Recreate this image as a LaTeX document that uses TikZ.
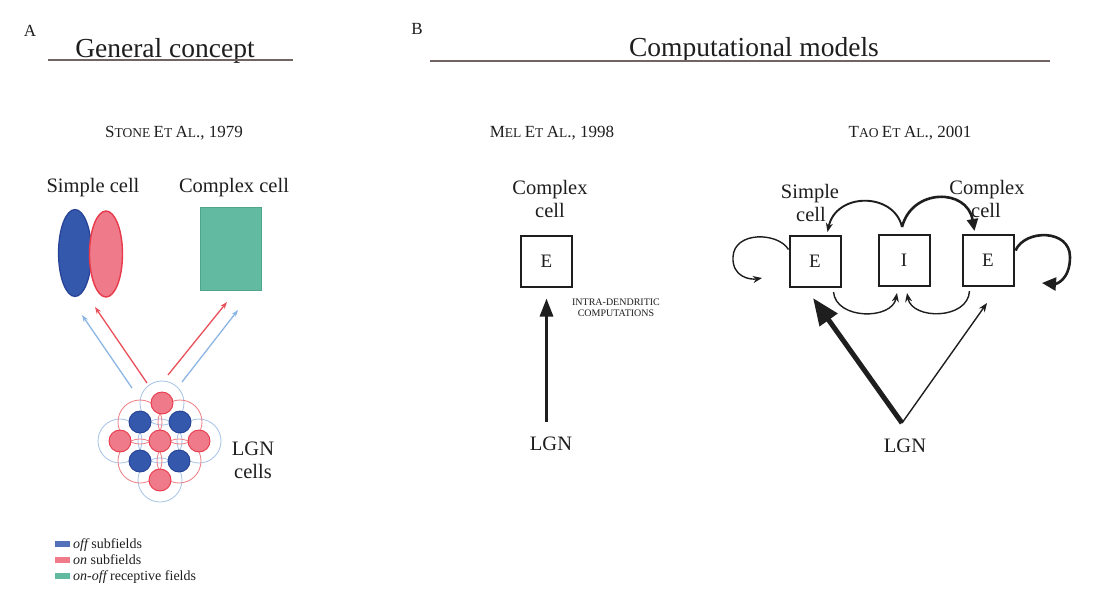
\documentclass[tikz,border=0pt]{standalone}
\usepackage{fontspec}
\setmainfont{Liberation Serif}
\usetikzlibrary{arrows.meta,shapes.geometric,calc}
\definecolor{offblue}{RGB}{52,88,172}
\definecolor{offedge}{RGB}{38,66,150}
\definecolor{onpink}{RGB}{238,122,138}
\definecolor{onedge}{RGB}{232,58,75}
\definecolor{rfteal}{RGB}{98,186,160}
\definecolor{rftealedge}{RGB}{80,165,140}
\definecolor{arrblue}{RGB}{140,182,228}
\definecolor{arrred}{RGB}{232,80,90}
\definecolor{surblue}{RGB}{165,195,230}
\definecolor{surred}{RGB}{238,125,132}
\definecolor{rulecol}{RGB}{115,100,100}
\definecolor{ink}{RGB}{30,30,30}
\newcommand\myB{\fontsize{17}{17}\selectfont}
\newcommand\myS{\fontsize{13.5}{13.5}\selectfont}
\begin{document}
\begin{tikzpicture}[x=1pt,y=-1pt,
  lab/.style={font=\fontsize{20.5}{20.5}\selectfont, inner sep=0, anchor=base, text=ink},
  head/.style={font=\fontsize{27.5}{27.5}\selectfont, inner sep=0, anchor=base, text=ink},
  letter/.style={font=\fontsize{17}{17}\selectfont, inner sep=0, anchor=base, text=ink},
  cite/.style={inner sep=0, anchor=base, text=ink},
  rule/.style={draw=rulecol, line width=1.1},
  boxE/.style={draw=ink, line width=2, minimum width=51, minimum height=51, inner sep=0, font=\fontsize{19}{19}\selectfont, text=ink},
  onfill/.style={circle, minimum size=22, inner sep=0, fill=onpink, draw=onedge, line width=0.9},
  offfill/.style={circle, minimum size=22, inner sep=0, fill=offblue, draw=offedge, line width=0.9},
  sursblue/.style={circle, minimum size=44, inner sep=0, draw=surblue, line width=0.8},
  sursred/.style={circle, minimum size=44, inner sep=0, draw=surred, line width=0.8},
  thinarr/.style={line width=1.3, -{Stealth[length=7, width=5]}},
  conn/.style={draw=ink, line width=1.4, -{Stealth[length=9, width=7]}},
  connthick/.style={draw=ink, line width=2.6, -{Triangle[length=12, width=11]}},
  legbox/.style={minimum width=15, minimum height=6, inner sep=0},
  legtext/.style={font=\fontsize{14}{14}\selectfont, inner sep=0, anchor=base west, text=ink}
]
\useasboundingbox[fill=white] (0,0) rectangle (1101,606);

% ---------- Panel A ----------
\node[letter] (A) at (30,36) {A};
\node[head] (hA) at (165,57) {General concept};
\coordinate (hAl) at (48,60); \coordinate (hAr) at (293,60);
\draw[rule] (hAl) -- (hAr);
\node[cite] (stone) at (174,137) {\myB S\myS TONE \myB E\myS T \myB A\myS L\myB ., 1979};

\node[lab] (simple) at (93,192) {Simple cell};
\node[lab] (complexA) at (234,192) {Complex cell};

\node[ellipse, minimum width=33, minimum height=87, inner sep=0, fill=offblue, draw=offedge, line width=1.2] (offrf) at (75,253) {};
\node[ellipse, minimum width=33, minimum height=86, inner sep=0, fill=onpink, draw=onedge, line width=1.4] (onrf) at (106,254) {};
\node[rectangle, minimum width=61, minimum height=83, inner sep=0, fill=rfteal, draw=rftealedge, line width=0.6] (crf) at (230.5,248.5) {};

% LGN cluster surrounds
\foreach \n/\x/\y in {r1/162/403, r2/120/441, r3/160/441, r4/199/441, r5/160/480}
  \node[sursblue] (s\n) at (\x,\y) {};
\foreach \n/\x/\y in {b1/140/422, b2/180/422, b3/140/461, b4/179/461}
  \node[sursred] (s\n) at (\x,\y) {};
% centers
\foreach \n/\x/\y in {b1/140/422, b2/180/422, b3/140/461, b4/179/461}
  \node[offfill] (\n) at (\x,\y) {};
\foreach \n/\x/\y in {r1/162/403, r2/120/441, r3/160/441, r4/199/441, r5/160/480}
  \node[onfill] (\n) at (\x,\y) {};

\node[lab] (lgnA) at (253,455) {LGN};
\node[lab] (cellsA) at (253,478) {cells};

% arrows from LGN to cortex
\coordinate (a1s) at (132,388); \coordinate (a1e) at (82,315);
\coordinate (a2s) at (147,383); \coordinate (a2e) at (95,307);
\coordinate (a3s) at (168,375); \coordinate (a3e) at (227,302);
\coordinate (a4s) at (182,382); \coordinate (a4e) at (238,310);
\draw[thinarr, arrblue] (a1s) -- (a1e);
\draw[thinarr, arrred] (a2s) -- (a2e);
\draw[thinarr, arrred] (a3s) -- (a3e);
\draw[thinarr, arrblue] (a4s) -- (a4e);

% legend
\node[legbox, fill=offblue!85!white] (k1) at (62.5,543.5) {};
\node[legtext] (t1) at (73,548) {{\itshape off} subfields};
\node[legbox, fill=onpink] (k2) at (62.5,559.5) {};
\node[legtext] (t2) at (73,564) {{\itshape on} subfields};
\node[legbox, fill=rfteal] (k3) at (62.5,575.5) {};
\node[legtext] (t3) at (73,580) {{\itshape on-off} receptive fields};

% ---------- Panel B ----------
\node[letter] (B) at (417,34) {B};
\node[head] (hB) at (754,56) {Computational models};
\coordinate (hBl) at (430,61); \coordinate (hBr) at (1050,61);
\draw[rule] (hBl) -- (hBr);

% Mel et al.
\node[cite] (mel) at (552,137) {\myB M\myS EL \myB E\myS T \myB A\myS L\myB ., 1998};
\node[lab] (mcx1) at (550,194) {Complex};
\node[lab] (mcx2) at (550,217) {cell};
\node[boxE] (me) at (546.5,261) {E};
\node[font=\fontsize{10}{10}\selectfont, inner sep=0, anchor=base, text=ink] (intra1) at (616,305) {INTRA-DENDRITIC};
\node[font=\fontsize{10}{10}\selectfont, inner sep=0, anchor=base, text=ink] (intra2) at (616,316) {COMPUTATIONS};
\node[lab] (mlgn) at (551,450) {LGN};
\draw[draw=ink, line width=3, -{Triangle[length=18, width=13]}, shorten <=14, shorten >=11] (mlgn.north -| me.south) -- (me.south);

% Tao et al.
\node[cite] (tao) at (910,137) {\myB T\myS AO \myB E\myS T \myB A\myS L\myB ., 2001};
\node[lab] (ts1) at (810,198) {Simple};
\node[lab] (ts2) at (811,221) {cell};
\node[lab] (tc1) at (987,194) {Complex};
\node[lab] (tc2) at (986,217) {cell};

\node[boxE] (te1) at (815,261.5) {E};
\node[boxE] (ti) at (904,260.5) {I};
\node[boxE] (te2) at (988,260.5) {E};

% top arcs from I
\coordinate (itop) at ($(ti.north)+(-2,-7)$);
\coordinate (e1corner) at ($(te1.north east)+(-14,-3)$);
\coordinate (e2corner) at ($(te2.north west)+(13,-3)$);
\draw[conn, line width=1.9] (itop) .. controls (894,192) and (836,192) .. (e1corner);
\draw[connthick] (itop) .. controls (912,188) and (967,188) .. (e2corner);

% self loops
\coordinate (l1s) at ($(te1.west)+(0,-12)$);
\coordinate (l1e) at (762,278);
\draw[conn] (l1s) .. controls (778,232) and (734,231) .. (733,257) .. controls (732,277) and (750,280) .. (l1e);
\coordinate (l2s) at ($(te2.east)+(1,-10)$);
\coordinate (l2e) at (1042,283);
\draw[draw=ink, line width=2.6, -{Triangle[length=14, width=13]}] (l2s) .. controls (1025,229) and (1070,229) .. (1070,257) .. controls (1070,280) and (1056,284) .. (l2e);

% bottom arcs to I
\coordinate (b1s) at ($(te1.south east)+(-8,4)$);
\coordinate (b1e) at ($(ti.south)+(-7,6)$);
\draw[conn] (b1s) .. controls (836,320) and (892,320) .. (b1e);
\coordinate (b2s) at ($(te2.south west)+(8,4)$);
\coordinate (b2e) at ($(ti.south)+(3,6)$);
\draw[conn] (b2s) .. controls (968,320) and (912,320) .. (b2e);

% LGN inputs
\node[lab] (tlgn) at (905,452) {LGN};
\coordinate (tv) at (902,423);
\coordinate (tip1) at (813,298);
\coordinate (tip2) at (987,303);
\draw[draw=ink, line width=5, -{Triangle[length=27, width=21]}] (tv) -- (tip1);
\draw[draw=ink, line width=1.4, -{Stealth[length=9, width=7]}] (tv) -- (tip2);
\end{tikzpicture}
\end{document}
